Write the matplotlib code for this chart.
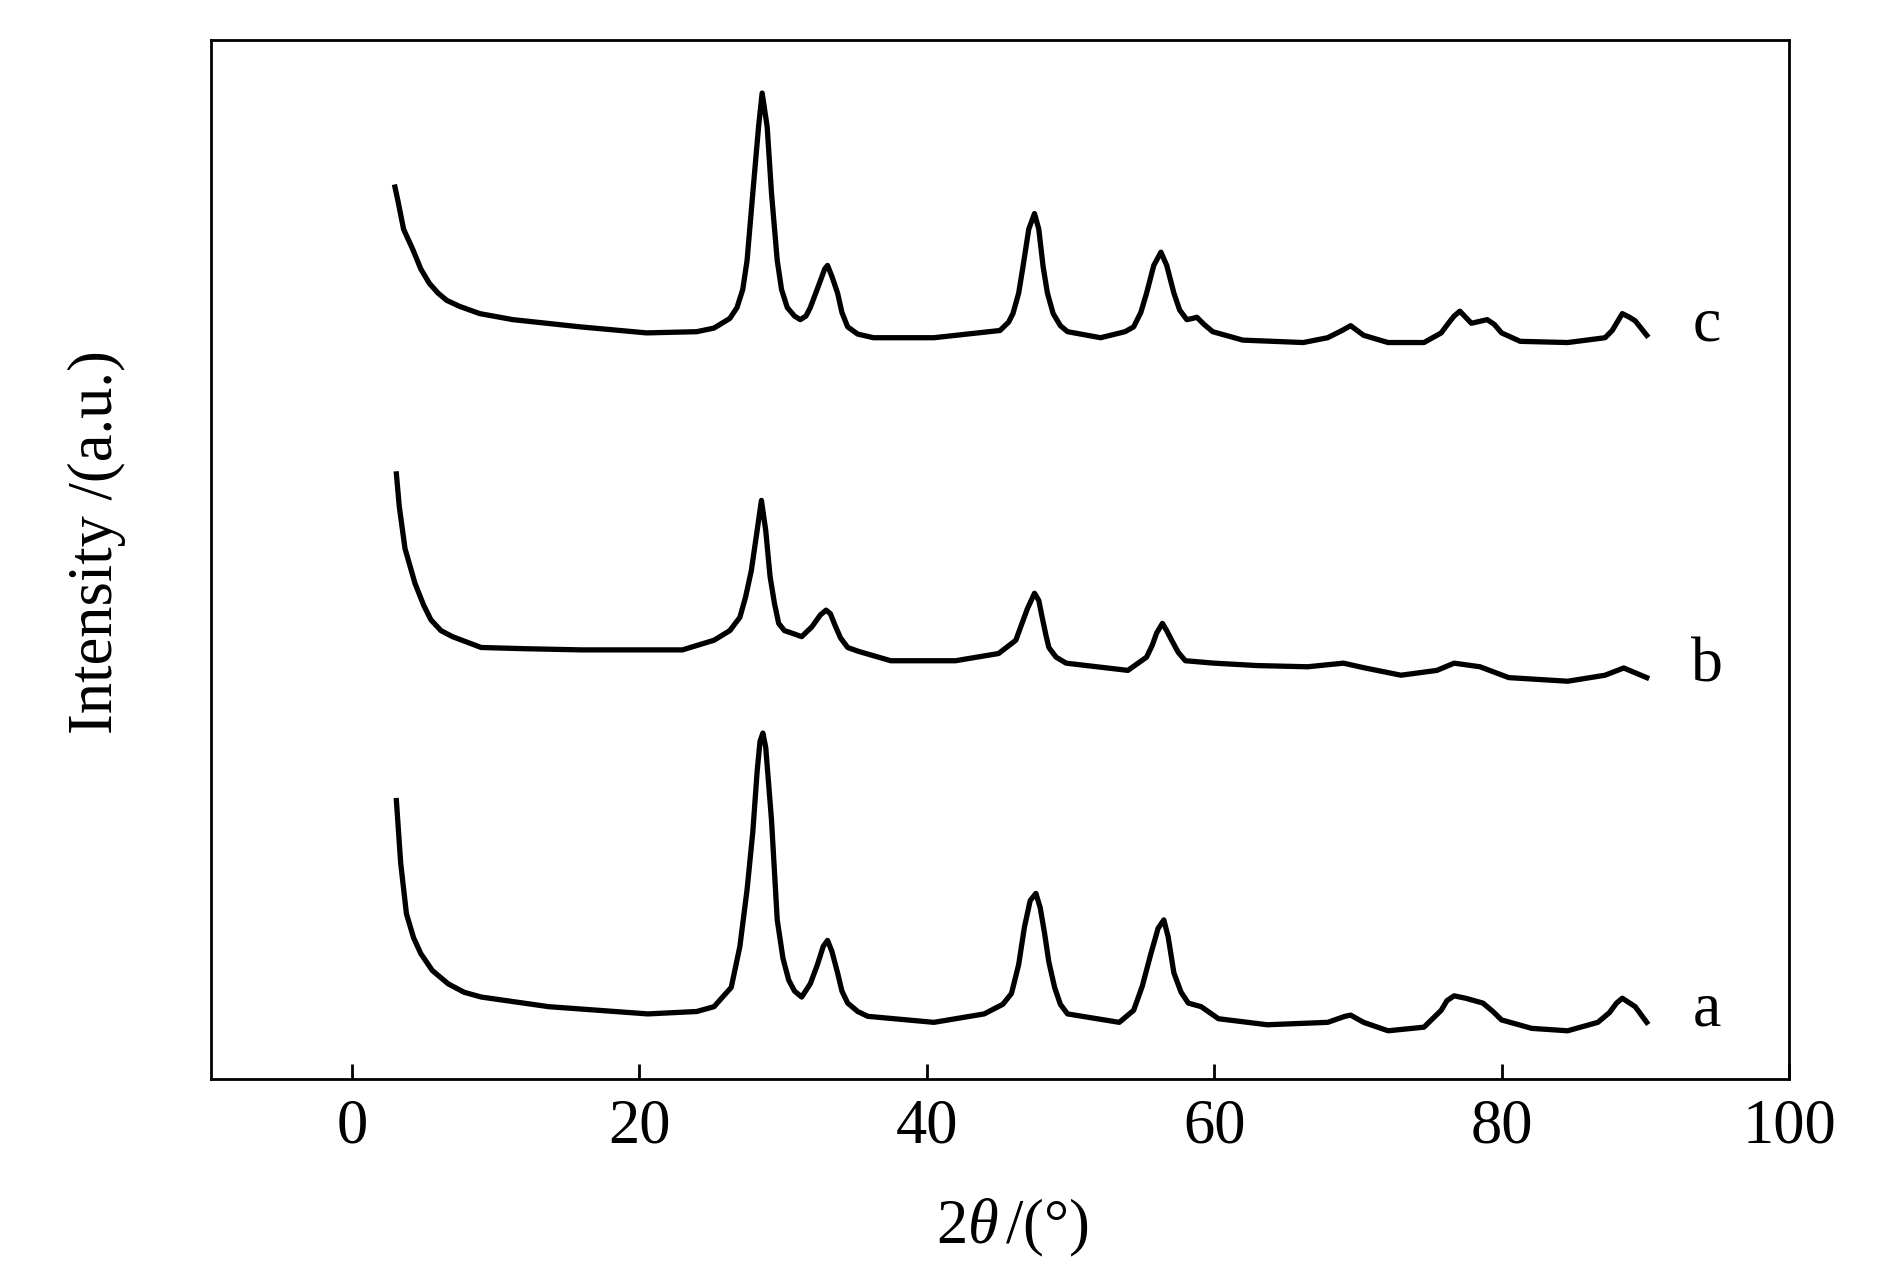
import matplotlib
matplotlib.use("Agg")
import matplotlib.pyplot as plt

plt.rcParams['font.family'] = ['Liberation Serif', 'DejaVu Serif']
plt.rcParams['mathtext.fontset'] = 'custom'
plt.rcParams['mathtext.rm'] = 'Liberation Serif'
plt.rcParams['mathtext.it'] = 'Liberation Serif:italic'

# ---- data (2theta in degrees, intensity in a.u.; curves already offset) ----
x_c = [3.0, 3.2, 3.6, 4.25, 4.8, 5.4, 6.0, 6.6, 7.5, 8.9, 11.2, 15.9, 20.5, 24.0, 25.2,
       26.3, 26.8, 27.2, 27.5, 27.9, 28.3, 28.55, 28.9, 29.2, 29.6, 29.9, 30.3, 30.8, 31.2,
       31.6, 31.9, 32.5, 32.9, 33.1, 33.4, 33.8, 34.1, 34.5, 35.2, 36.3, 40.5, 45.1, 45.7,
       46.0, 46.4, 46.7, 47.1, 47.5, 47.8, 48.1, 48.4, 48.8, 49.3, 49.8, 52.1, 53.8, 54.4,
       54.9, 55.3, 55.8, 56.3, 56.7, 57.2, 57.6, 58.1, 58.5, 58.8, 59.3, 59.9, 62.0, 66.2,
       67.9, 68.9, 69.5, 70.4, 72.1, 74.6, 75.8, 76.3, 76.7, 77.1, 77.9, 79.0, 79.5, 80.0,
       81.3, 84.6, 87.2, 87.7, 88.0, 88.4, 88.9, 89.3, 90.1]
y_c = [740, 729, 705, 688, 672, 660, 652, 646, 641, 635, 630, 624, 619, 620, 623,
       631, 640, 655, 679, 735, 790, 818, 790, 735, 679, 655, 640, 633, 630,
       633, 640, 659, 672, 675, 666, 652, 636, 624, 618, 615, 615, 621, 628,
       635, 652, 674, 705, 718, 705, 674, 652, 635, 625, 620, 615, 620, 624,
       636, 652, 675, 686, 675, 652, 638, 630, 631, 632, 626, 620, 613, 611,
       615, 621, 625, 617, 611, 611, 619, 627, 633, 637, 627, 630, 626, 619,
       612, 611, 615, 621, 627, 635, 632, 629, 617]

x_b = [3.1, 3.3, 3.7, 4.4, 5.0, 5.5, 6.2, 7.0, 9.0, 12.0, 16.0, 23.0, 25.2, 26.3, 27.0,
       27.4, 27.8, 28.2, 28.5, 28.8, 29.1, 29.4, 29.7, 30.1, 30.6, 31.3, 32.0, 32.6, 33.0,
       33.3, 33.6, 34.0, 34.5, 35.2, 37.5, 42.0, 45.0, 46.2, 46.6, 47.0, 47.5, 47.8, 48.0,
       48.3, 48.5, 49.0, 49.7, 54.0, 55.3, 55.7, 56.0, 56.4, 56.7, 57.0, 57.5, 58.0, 60.0,
       63.0, 66.5, 69.0, 70.5, 73.0, 75.5, 76.7, 78.5, 80.5, 84.6, 87.2, 88.5, 90.1]
y_b = [502, 475, 440, 411, 393, 381, 372, 367, 358, 357, 356, 356, 364, 372, 383,
       400, 422, 455, 480, 455, 417, 395, 378, 372, 370, 367, 375, 385, 389,
       386, 377, 366, 358, 355, 347, 347, 353, 364, 377, 390, 403, 397, 385,
       368, 358, 350, 345, 339, 350, 360, 370, 378, 372, 365, 354, 347, 345,
       343, 342, 345, 341, 335, 339, 345, 342, 333, 330, 335, 341, 333]

x_a = [3.1, 3.4, 3.8, 4.3, 4.8, 5.6, 6.7, 7.8, 9.0, 13.7, 20.6, 24.0, 25.2, 26.4, 27.0,
       27.5, 27.9, 28.2, 28.4, 28.6, 28.8, 29.0, 29.2, 29.6, 30.0, 30.4, 30.8, 31.3, 31.9,
       32.4, 32.8, 33.1, 33.4, 33.8, 34.1, 34.5, 35.2, 35.9, 40.5, 44.0, 45.3, 45.9, 46.4,
       46.8, 47.2, 47.6, 47.9, 48.2, 48.5, 48.9, 49.3, 49.8, 53.4, 54.4, 55.0, 55.6, 56.1,
       56.5, 56.8, 57.2, 57.7, 58.2, 59.1, 60.3, 63.7, 67.9, 69.1, 69.5, 70.4, 72.1, 74.6,
       75.8, 76.2, 76.7, 77.5, 78.7, 79.4, 80.0, 82.1, 84.6, 86.7, 87.5, 88.0, 88.4, 89.3,
       90.1]
y_a = [231, 179, 137, 117, 104, 90, 79, 72, 68, 60, 54, 56, 60, 76, 110,
       157, 205, 255, 280, 287, 275, 245, 215, 132, 100, 82, 73, 68, 79,
       95, 110, 115, 106, 88, 73, 63, 56, 52, 47, 54, 62, 71, 95,
       126, 148, 154, 142, 121, 97, 76, 62, 54, 47, 57, 77, 104, 125,
       132, 118, 88, 72, 63, 60, 50, 45, 47, 52, 53, 47, 40, 43,
       57, 65, 69, 67, 63, 56, 49, 42, 40, 47, 55, 63, 67, 60,
       47]

curve_labels = ['a', 'b', 'c']
label_x = 94.3
label_y = [57, 342, 625]
x_ticks = [0, 20, 40, 60, 80, 100]

# ---- figure ----
fig = plt.figure(figsize=(18.9, 12.76), dpi=100)
ax = fig.add_axes([211/1890, 1 - 1079/1276, (1789-211)/1890, (1079-40)/1276])

for xs, ys in [(x_a, y_a), (x_b, y_b), (x_c, y_c)]:
    ax.plot(xs, ys, color='black', lw=3.8, solid_joinstyle='round')

for lab, ly in zip(curve_labels, label_y):
    ax.text(label_x, ly, lab, fontsize=46, ha='center', va='center')

ax.set_xlim(-9.8, 100)
ax.set_ylim(0, 862)
ax.set_xticks(x_ticks)
ax.set_xticklabels([str(t) for t in x_ticks])
ax.set_yticks([])
ax.tick_params(axis='x', direction='in', length=11, width=2, labelsize=45, pad=14,
               top=False)
for sp in ax.spines.values():
    sp.set_linewidth(2)

fig.text(1012/1890, 1 - 1228/1276, r'$\mathrm{2}\mathit{\theta}\,\mathrm{/(°)}$',
         fontsize=45, ha='center', va='center')
fig.text(97/1890, 1 - 542/1276, 'Intensity /(a.u.)', fontsize=45, rotation=90,
         ha='center', va='center')

fig.savefig('out.png', dpi=100)
